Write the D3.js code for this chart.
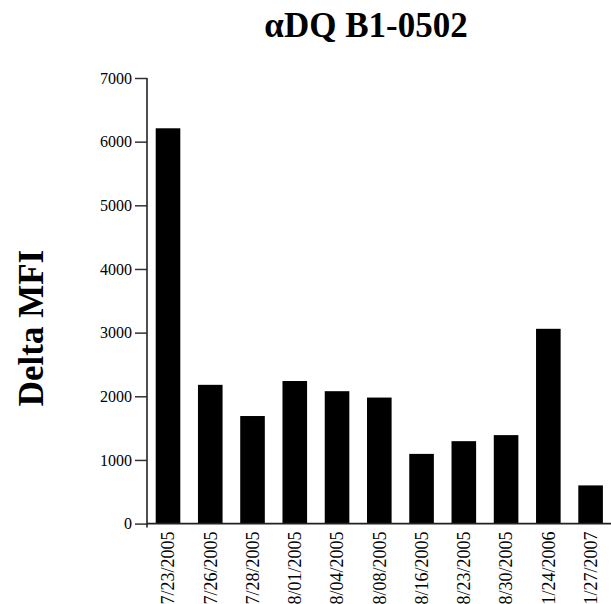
<!DOCTYPE html>
<html>
<head>
<meta charset="utf-8">
<script src="https://cdn.jsdelivr.net/npm/d3@7/dist/d3.min.js"></script>
<style>
  body { margin: 0; background: #fff; }
  svg { display: block; }
  text { font-family: 'Liberation Serif', 'Times New Roman', serif; fill: #000; }
</style>
</head>
<body>
<svg id="chart"></svg>
<script>
'use strict';

// values
var dates = ['7/23/2005', '7/26/2005', '7/28/2005', '8/01/2005', '8/04/2005', '8/08/2005',
  '8/16/2005', '8/23/2005', '8/30/2005', '1/24/2006', '1/27/2007'];
var deltaMfi = [6210, 2180, 1690, 2240, 2080, 1980, 1095, 1295, 1390, 3060, 600];
var yTicks = [0, 1000, 2000, 3000, 4000, 5000, 6000, 7000];
var title = '\u03b1DQ B1-0502';
var yLabel = 'Delta MFI';

var width = 611, height = 604;
var margin = { top: 78, right: 0, bottom: 81, left: 147 };

var svg = d3.select('#chart')
  .attr('width', width)
  .attr('height', height);

var x = d3.scaleBand()
  .domain(dates)
  .range([margin.left, width + 0.6])
  .paddingInner(0.418)
  .paddingOuter(0.206);

var y = d3.scaleLinear()
  .domain([0, 7000])
  .range([height - margin.bottom + 0.6, margin.top]);

// bars
svg.append('g')
  .selectAll('rect')
  .data(dates)
  .enter()
  .append('rect')
  .attr('x', function(d) { return x(d); })
  .attr('width', x.bandwidth())
  .attr('y', function(d, i) { return y(deltaMfi[i]); })
  .attr('height', function(d, i) { return y(0) - y(deltaMfi[i]); })
  .style('fill', '#000');

// y axis
var yAxis = svg.append('g')
  .attr('transform', 'translate(' + margin.left + ',0)')
  .call(d3.axisLeft(y).tickValues(yTicks).tickSize(12).tickPadding(3).tickSizeOuter(0)
    .tickFormat(d3.format('d')));
yAxis.select('.domain').remove();
yAxis.selectAll('line').attr('stroke', '#333').attr('stroke-width', 1.5);
yAxis.selectAll('text')
  .style('font-size', '16px')
  .style('font-family', "'Liberation Serif', 'Times New Roman', serif");

svg.append('line')
  .attr('x1', margin.left).attr('x2', margin.left)
  .attr('y1', y(7000)).attr('y2', y(0) + 4)
  .attr('stroke', '#222').attr('stroke-width', 1.6);

// x axis line
svg.append('line')
  .attr('x1', margin.left).attr('x2', width)
  .attr('y1', y(0)).attr('y2', y(0))
  .attr('stroke', '#222').attr('stroke-width', 1.6);

// rotated date labels
svg.append('g')
  .selectAll('text')
  .data(dates)
  .enter()
  .append('text')
  .attr('transform', function(d) {
    return 'translate(' + (x(d) + x.bandwidth() / 2) + ',' + (y(0) + 8) + ') rotate(-90)';
  })
  .attr('dy', '0.35em')
  .attr('text-anchor', 'end')
  .style('font-size', '18px')
  .text(function(d) { return d; });

// title
svg.append('text')
  .attr('x', 366)
  .attr('y', 37)
  .attr('text-anchor', 'middle')
  .style('font-size', '35px')
  .style('font-weight', 'bold')
  .text(title);

// y label
svg.append('text')
  .attr('transform', 'translate(43,' + 328 + ') rotate(-90)')
  .attr('text-anchor', 'middle')
  .style('font-size', '35px')
  .style('font-weight', 'bold')
  .text(yLabel);
</script>
</body>
</html>
